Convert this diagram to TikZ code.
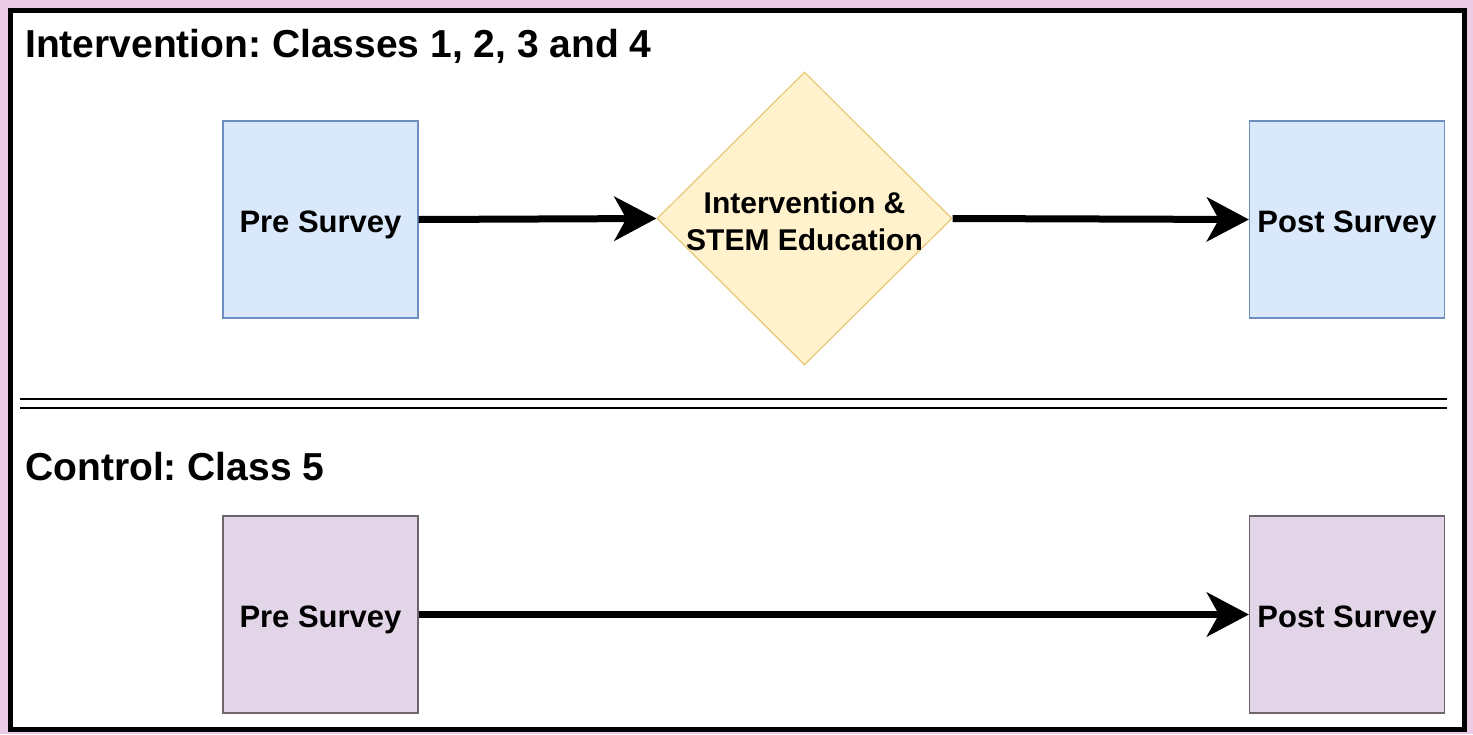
\documentclass[tikz,border=0pt]{standalone}
\usepackage{fontspec}
\setmainfont{Liberation Sans}
\usetikzlibrary{shapes.geometric,arrows.meta}
\definecolor{pinkbg}{RGB}{234,204,228}
\definecolor{bluefill}{RGB}{218,232,252}
\definecolor{bluedraw}{RGB}{108,142,191}
\definecolor{purplefill}{RGB}{225,213,231}
\definecolor{purpledraw}{RGB}{110,100,110}
\definecolor{yellowfill}{RGB}{255,242,204}
\definecolor{yellowdraw}{RGB}{232,200,120}
\newcommand{\lowtext}[1]{\raisebox{-13pt}[0pt][0pt]{#1}}
\tikzset{
  survey/.style={rectangle, minimum width=195pt, minimum height=197pt, inner sep=0pt, line width=1.2pt, font=\fontsize{31}{37}\selectfont\bfseries},
  prebox/.style={survey, fill=bluefill, draw=bluedraw},
  ctrlbox/.style={survey, fill=purplefill, draw=purpledraw},
  decision/.style={diamond, minimum width=295pt, minimum height=293pt, inner sep=0pt, fill=yellowfill, draw=yellowdraw, line width=1.2pt},
  flow/.style={line width=7pt, -{Stealth[length=42pt, width=44pt, inset=12pt]}},
  heading/.style={anchor=base west, inner sep=0pt, font=\fontsize{39}{46}\selectfont\bfseries\frenchspacing},
  sepline/.style={line width=2pt}
}
\begin{document}
\begin{tikzpicture}[x=1pt,y=-1pt]
  \fill[pinkbg] (0,0) rectangle (1473,734);
  \useasboundingbox (0,0) rectangle (1473,734);
  \draw[line width=5pt, fill=white] (10.5,10.5) rectangle (1464.5,729.5);
  % headings
  \node[heading] (h1) at (25,57) {Intervention: Classes 1, 2, 3 and 4};
  \node[heading] (h2) at (25,480) {Control: Class 5};
  % separator
  \coordinate (s1a) at (20,399); \coordinate (s1b) at (1447,399);
  \coordinate (s2a) at (20,408); \coordinate (s2b) at (1447,408);
  \draw[sepline] (s1a) -- (s1b);
  \draw[sepline] (s2a) -- (s2b);
  % intervention row
  \node[prebox] (pre1) at (320.5,219.5) {\lowtext{Pre Survey}};
  \node[decision] (dec) at (804.5,218.5) {};
  \node[align=center, inner sep=0pt, font=\fontsize{30}{37}\selectfont\bfseries] (dect) at (804.5,221) {Intervention \&\\STEM Education};
  \node[prebox] (post1) at (1347,219.5) {\lowtext{Post Survey}};
  \draw[flow] (pre1.east) -- (dec.west);
  \draw[flow] (dec.east) -- (post1.west);
  % control row
  \node[ctrlbox] (pre2) at (320.5,614.5) {\lowtext{Pre Survey}};
  \node[ctrlbox] (post2) at (1347,614.5) {\lowtext{Post Survey}};
  \draw[flow] (pre2.east) -- (post2.west);
\end{tikzpicture}
\end{document}
